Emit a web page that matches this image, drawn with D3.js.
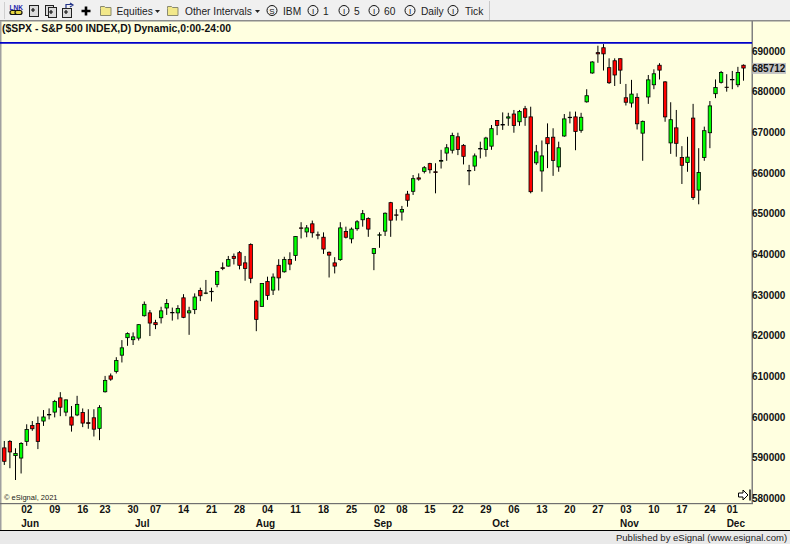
<!DOCTYPE html>
<html lang="en">
<head>
<meta charset="UTF-8">
<title>$SPX - S&amp;P 500 INDEX</title>
<script src="https://d3js.org/d3.v7.min.js"></script>
<style>
    html, body { margin: 0; padding: 0; background: #f0f0f0; overflow: hidden; }
    svg { display: block; }
    .axis-label text { font: bold 10px "Liberation Sans", Arial, sans-serif; fill: #111; }
    .tool { font: 10.2px "Liberation Sans", sans-serif; fill: #222; }
</style>
</head>
<body>
<svg id="chart" width="790" height="544"></svg>
<script>
    // daily candles, index points
    const opens = [5925,5941,5904,5898,5939,5980,5985,5989,6004,6011,6048,6011,6001,6004,6012,5987,5999,5971,6061,6102,6111,6151,6194,6189,6193,6248,6257,6233,6243,6267,6256,6255,6294,6255,6263,6312,6304,6310,6325,6368,6370,6396,6405,6380,6425,6286,6271,6334,6311,6374,6356,6388,6396,6466,6454,6476,6449,6443,6406,6380,6386,6457,6437,6462,6484,6489,6401,6447,6456,6528,6498,6503,6549,6554,6589,6603,6624,6604,6628,6648,6655,6690,6669,6605,6616,6659,6657,6665,6730,6720,6734,6746,6725,6759,6739,6624,6604,6688,6689,6614,6690,6738,6739,6704,6774,6845,6897,6909,6860,6877,6882,6786,6771,6787,6697,6786,6816,6866,6825,6673,6712,6639,6625,6736,6557,6637,6698,6794,6822,6812,6831,6816,6866];
    const highs = [5941,5943,5923,5938,5982,5990,6001,6017,6021,6042,6061,6043,6027,6052,6021,6019,6019,6029,6101,6107,6147,6189,6208,6208,6228,6284,6263,6239,6271,6290,6269,6275,6302,6271,6304,6318,6337,6318,6359,6380,6396,6402,6408,6396,6427,6288,6329,6345,6353,6388,6394,6405,6445,6479,6472,6483,6456,6454,6407,6393,6479,6468,6466,6484,6509,6491,6415,6454,6503,6529,6511,6519,6556,6595,6599,6617,6625,6624,6657,6671,6699,6699,6671,6620,6648,6677,6689,6718,6730,6749,6748,6755,6755,6765,6763,6669,6680,6722,6710,6677,6745,6751,6751,6748,6806,6875,6913,6917,6882,6882,6882,6819,6829,6796,6729,6841,6855,6870,6826,6774,6755,6666,6689,6770,6661,6714,6777,6830,6851,6843,6851,6861,6867];
    const lows = [5882,5874,5845,5861,5929,5966,5921,5978,5994,5999,6002,6002,5964,6002,5975,5971,5952,5943,6060,6089,6107,6134,6175,6177,6188,6247,6199,6216,6230,6251,6237,6240,6243,6202,6253,6285,6302,6284,6319,6361,6370,6375,6363,6335,6329,6211,6271,6288,6300,6311,6355,6361,6384,6439,6442,6441,6437,6401,6343,6353,6384,6439,6427,6458,6468,6443,6361,6416,6445,6443,6483,6483,6517,6546,6581,6599,6599,6550,6611,6630,6648,6644,6621,6570,6605,6636,6640,6657,6693,6706,6716,6699,6716,6716,6550,6620,6554,6612,6593,6603,6689,6722,6656,6699,6773,6844,6871,6852,6819,6814,6819,6766,6761,6707,6630,6770,6806,6830,6726,6647,6640,6573,6603,6534,6523,6630,6661,6784,6820,6800,6806,6811,6827];
    const closes = [5890,5913,5911,5936,5970,5970,5939,6001,6007,6039,6023,6043,5979,6032,5984,5983,5969,6024,6091,6092,6140,6171,6206,6198,6228,6278,6230,6226,6262,6280,6258,6268,6244,6262,6296,6297,6306,6307,6359,6364,6388,6389,6372,6364,6340,6239,6329,6298,6345,6341,6388,6375,6445,6463,6466,6452,6447,6412,6397,6370,6466,6441,6463,6481,6501,6461,6415,6449,6502,6483,6496,6511,6532,6587,6584,6614,6607,6600,6632,6663,6693,6657,6640,6607,6643,6661,6687,6710,6716,6717,6739,6716,6752,6736,6553,6653,6643,6671,6630,6663,6734,6737,6701,6738,6791,6874,6892,6892,6821,6840,6852,6773,6795,6720,6728,6830,6845,6852,6737,6732,6672,6618,6640,6539,6602,6705,6766,6811,6848,6811,6829,6848,6857.12];

    const dayTickIndex = [4,9,14,18,23,27,32,37,42,47,52,57,62,67,71,76,81,86,91,96,101,106,111,116,121,126,130];
    const dayTickLabels = ["02","09","16","23","30","07","14","21","28","04","11","18","25","02","08","15","22","29","06","13","20","27","03","10","17","24","01"];
    const monthIndex = [4,24,46,67,88,111,130];
    const monthLabels = ["Jun","Jul","Aug","Sep","Oct","Nov","Dec"];
    const priceTicks = [5800,5900,6000,6100,6200,6300,6400,6500,6600,6700,6800,6900];
    const highLine = 6920;

    const width = 790, height = 544;
    const svg = d3.select("#chart");
    const lastIndex = closes.length - 1;

    const x = d3.scaleLinear().domain([0, lastIndex]).range([4.3, 743.5]);
    const y = d3.scaleLinear().domain([5800, 6900]).range([498.3, 51]);
    const fmtPrice = d => String(Math.round(d * 100));

    // panel background and frame
    svg.append("rect").attr("width", width).attr("height", height).attr("fill", "#f0f0f0");
    svg.append("rect").attr("x", 0).attr("y", 21).attr("width", width).attr("height", 509).attr("fill", "#ffffe0");
    svg.append("rect").attr("x", 0).attr("y", 531).attr("width", width).attr("height", 13).attr("fill", "#e9e9e9");
    svg.append("rect").attr("x", 0).attr("y", 530).attr("width", width).attr("height", 1).attr("fill", "#000");
    svg.append("rect").attr("x", 0).attr("y", 20).attr("width", width).attr("height", 1.5).attr("fill", "#8c8c8c");
    svg.append("rect").attr("x", 0).attr("y", 21).attr("width", 1.5).attr("height", 509).attr("fill", "#a0a0a0");
    svg.append("rect").attr("x", 751.5).attr("y", 21).attr("width", 1.5).attr("height", 482).attr("fill", "#808080");
    svg.append("rect").attr("x", 0).attr("y", 503).attr("width", 753).attr("height", 1.2).attr("fill", "#707070");

    // all time high line
    svg.append("line")
        .attr("x1", 0).attr("x2", 752)
        .attr("y1", y(highLine)).attr("y2", y(highLine))
        .attr("stroke", "#0000c8").attr("stroke-width", 1.8);

    svg.append("text")
        .attr("x", 2).attr("y", 32)
        .attr("font-family", "Liberation Sans")
        .attr("font-weight", "bold")
        .attr("font-size", 10.4)
        .attr("fill", "#111")
        .text("($SPX - S&P 500 INDEX,D) Dynamic,0:00-24:00");

    // candles
    const candles = svg.append("g").selectAll("g")
        .data(closes.map((c, i) => i))
        .enter().append("g");

    candles.append("line")
        .attr("x1", i => x(i)).attr("x2", i => x(i))
        .attr("y1", i => y(highs[i])).attr("y2", i => y(lows[i]))
        .attr("stroke", "#000").attr("stroke-width", 1);

    candles.append("rect")
        .attr("x", i => x(i) - 1.7)
        .attr("width", 3.4)
        .attr("y", i => y(Math.max(opens[i], closes[i])) + 0.4)
        .attr("height", i => Math.max(0.4, Math.abs(y(opens[i]) - y(closes[i])) - 0.8))
        .attr("fill", i => closes[i] >= opens[i] ? "#00ff00" : "#ff0000")
        .attr("stroke", "#000").attr("stroke-width", 0.8);

    // last price box, behind the axis labels
    const lastClose = closes[lastIndex];
    svg.append("rect")
        .attr("x", 752.5).attr("y", y(lastClose) - 5.5)
        .attr("width", 33.5).attr("height", 11)
        .attr("fill", "#c4c4c4");

    const yAxis = d3.axisRight(y)
        .tickValues(priceTicks.concat([lastClose]))
        .tickSize(0).tickPadding(0)
        .tickFormat(fmtPrice);
    svg.append("g")
        .attr("class", "axis-label")
        .attr("transform", "translate(752,0)")
        .call(yAxis)
        .call(g => g.select(".domain").remove());

    // x axis: days, then months underneath
    const dayAxis = d3.axisBottom(x)
        .tickValues(dayTickIndex)
        .tickSize(0).tickPadding(0)
        .tickFormat((d, i) => dayTickLabels[i]);
    svg.append("g")
        .attr("class", "axis-label")
        .attr("transform", "translate(-0.5,506)")
        .call(dayAxis)
        .call(g => g.select(".domain").remove());

    const monthAxis = d3.axisBottom(x)
        .tickValues(monthIndex)
        .tickSize(0).tickPadding(0)
        .tickFormat((d, i) => monthLabels[i]);
    svg.append("g")
        .attr("class", "axis-label")
        .attr("transform", "translate(3,519.5)")
        .call(monthAxis)
        .call(g => g.select(".domain").remove());

    svg.append("text")
        .attr("x", 4).attr("y", 499.5)
        .attr("font-family", "Liberation Sans")
        .attr("font-size", 7.5)
        .attr("fill", "#222")
        .text("\u00a9 eSignal, 2021");

    svg.append("text")
        .attr("x", 616).attr("y", 540.5)
        .attr("font-family", "Liberation Sans")
        .attr("font-size", 9.5)
        .attr("fill", "#222")
        .text("Published by eSignal (www.esignal.com)");

    // scroll-to-end arrow, bottom right of the plot
    const endIcon = svg.append("g").attr("transform", "translate(738,489.5)");
    endIcon.append("path")
        .attr("d", "M0.5 3.5H5V0.5L10 5.5L5 10.5V7.5H0.5Z")
        .attr("fill", "#fff").attr("stroke", "#000");
    endIcon.append("line")
        .attr("x1", 12).attr("x2", 12).attr("y1", 0).attr("y2", 11)
        .attr("stroke", "#000").attr("stroke-width", 1.4);

    // toolbar
    const bar = svg.append("g");
    bar.append("rect").attr("x", 489).attr("y", 1).attr("width", 1).attr("height", 19).attr("fill", "#c8c8c8");
    bar.append("rect").attr("x", 4).attr("y", 2).attr("width", 1).attr("height", 17).attr("fill", "#cfcfcf");

    // LNK chain
    bar.append("text").attr("x", 9.5).attr("y", 10)
        .attr("font-family", "Liberation Sans").attr("font-weight", "bold").attr("font-size", 6.5)
        .attr("fill", "#2222aa").text("LNK");
    bar.append("rect").attr("x", 10).attr("y", 10.5).attr("width", 7).attr("height", 4).attr("rx", 2)
        .attr("fill", "#e8d840").attr("stroke", "#111").attr("stroke-width", 1.2);
    bar.append("rect").attr("x", 15).attr("y", 10.5).attr("width", 7).attr("height", 4).attr("rx", 2)
        .attr("fill", "#e8d840").attr("stroke", "#111").attr("stroke-width", 1.2);

    // document icons
    [[29, 5, 9, 11], [45, 5, 8, 10], [48, 7, 8, 10], [62, 8, 9, 9]].forEach(r => {
        bar.append("rect").attr("x", r[0] + 0.5).attr("y", r[1] + 0.5).attr("width", r[2]).attr("height", r[3])
            .attr("fill", "#dcdcdc").attr("stroke", "#222");
    });
    [[33, 10], [51, 12], [66, 12]].forEach(p => {
        bar.append("path").attr("d", `M${p[0] - 2} ${p[1]}h4m-2 -2v4`).attr("stroke", "#111").attr("stroke-width", 1.2).attr("fill", "none");
    });
    bar.append("path").attr("d", "M66 8V4.5H72M70 3L73 5L70 7").attr("stroke", "#223388").attr("stroke-width", 1.2).attr("fill", "none");

    bar.append("path").attr("d", "M86 6.5V15.5M81.5 11H90.5").attr("stroke", "#000").attr("stroke-width", 2.6);

    // folder buttons
    const folder = x0 => {
        bar.append("path")
            .attr("d", `M${x0 + 0.5} 8.5V6.5h4l1 1h5.5v8h-10.5Z`)
            .attr("fill", "#f2e88a").attr("stroke", "#8a8a70");
    };
    folder(100);
    folder(167);
    const arrow = x0 => bar.append("path").attr("d", `M${x0} 10h5l-2.5 3Z`).attr("fill", "#222");
    arrow(155);
    arrow(255);

    const toolLabel = (x0, s) => bar.append("text").attr("class", "tool").attr("x", x0).attr("y", 15).text(s);
    toolLabel(116.5, "Equities");
    toolLabel(185, "Other Intervals");

    // circled letter buttons
    const badge = (cx, letter) => {
        bar.append("circle").attr("cx", cx).attr("cy", 10.5).attr("r", 5)
            .attr("fill", "#f0f0f0").attr("stroke", "#111");
        bar.append("text").attr("x", cx).attr("y", 13.5).attr("text-anchor", "middle")
            .attr("font-family", "Liberation Sans").attr("font-size", 8).attr("fill", "#111").text(letter);
    };
    badge(272, "S");  toolLabel(283, "IBM");
    badge(313, "I");  toolLabel(323, "1");
    badge(344, "I");  toolLabel(354, "5");
    badge(374, "I");  toolLabel(384, "60");
    badge(410, "I");  toolLabel(421, "Daily");
    badge(453, "I");  toolLabel(465, "Tick");
</script>
</body>
</html>
